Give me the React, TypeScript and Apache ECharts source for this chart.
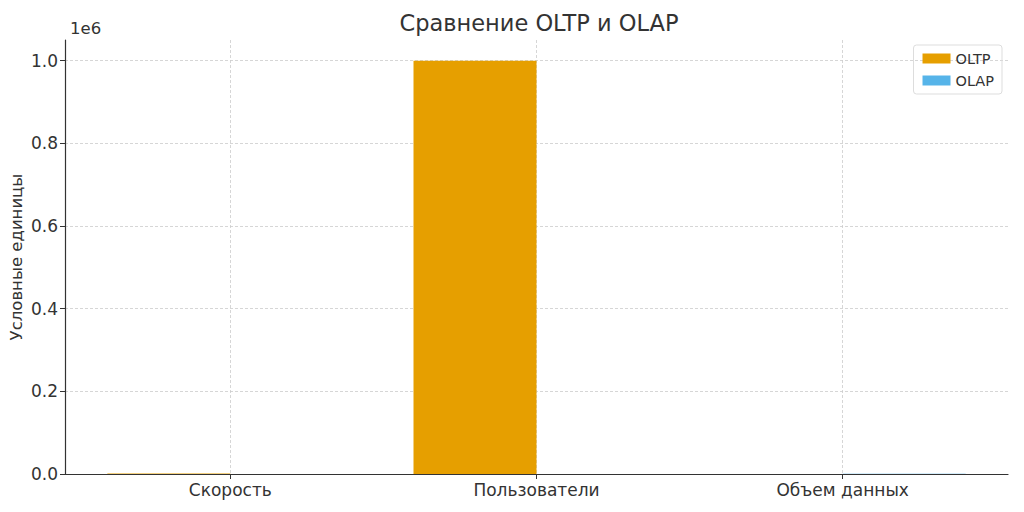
import { useEffect, useRef } from 'react';
import * as echarts from 'echarts';

// Категории и значения (OLTP / OLAP), условные единицы
const categories = ['Скорость', 'Пользователи', 'Объем данных'];
const oltpValues = [1000, 1000000, 100];
const olapValues = [10, 100, 500];
const yTicks = [0, 200000, 400000, 600000, 800000, 1000000];
const xTicks = [0, 1, 2];

const FONT = '"DejaVu Sans", sans-serif';

const App: React.FC = () => {
    const chartRef = useRef<HTMLDivElement>(null);

    useEffect(() => {
        if (!chartRef.current) return;
        const chart = echarts.init(chartRef.current, null, { renderer: 'svg' });

        const gridLine = {
            show: true,
            lineStyle: { color: '#cccccc', type: [3, 2] as number[], width: 0.8 }
        };

        chart.setOption({
            animation: false,
            backgroundColor: '#ffffff',
            textStyle: { fontFamily: FONT },
            title: [
                {
                    text: 'Сравнение OLTP и OLAP',
                    left: 534,
                    textAlign: 'center',
                    top: 6,
                    textStyle: { fontSize: 22.5, fontWeight: 'normal', color: '#333333', fontFamily: FONT }
                },
                {
                    text: '1e6',
                    left: 65,
                    top: 15,
                    textStyle: { fontSize: 16.5, fontWeight: 'normal', color: '#333333', fontFamily: FONT }
                }
            ],
            legend: {
                right: 22,
                top: 45,
                orient: 'vertical',
                itemWidth: 28,
                itemHeight: 10,
                itemGap: 7,
                padding: [6, 8, 6, 9],
                borderColor: '#dddddd',
                borderWidth: 1,
                borderRadius: 3,
                icon: 'rect',
                textStyle: { fontSize: 14.5, color: '#333333', fontFamily: FONT },
                data: ['OLTP', 'OLAP']
            },
            grid: { left: 65, right: 16, top: 40, bottom: 38, outerBoundsMode: 'none', containLabel: false },
            xAxis: {
                type: 'value',
                min: -0.54,
                max: 2.54,
                axisLine: { show: true, onZero: false, lineStyle: { color: '#333333', width: 1.2 } },
                axisTick: { show: true, customValues: xTicks, length: 5, lineStyle: { color: '#333333' } },
                axisLabel: {
                    customValues: xTicks,
                    formatter: (v: number) => categories[Math.round(v)] ?? '',
                    fontSize: 17,
                    color: '#333333',
                    margin: 7,
                    fontFamily: FONT
                },
                splitLine: gridLine
            },
            yAxis: {
                type: 'value',
                min: 0,
                max: 1050000,
                name: 'Условные единицы',
                nameLocation: 'middle',
                nameRotate: 90,
                nameGap: 40,
                nameMoveOverlap: false,
                nameTextStyle: { fontSize: 16.5, color: '#333333', fontFamily: FONT },
                axisLine: { show: true, onZero: false, lineStyle: { color: '#333333', width: 1.2 } },
                axisTick: { show: true, customValues: yTicks, length: 5, lineStyle: { color: '#333333' } },
                axisLabel: {
                    customValues: yTicks,
                    formatter: (v: number) => (v / 1e6).toFixed(1),
                    fontSize: 17,
                    color: '#333333',
                    margin: 7,
                    fontFamily: FONT
                },
                splitLine: gridLine
            },
            series: [
                {
                    name: 'OLTP',
                    type: 'bar',
                    barWidth: 123,
                    barGap: '0%',
                    itemStyle: { color: '#E69F00' },
                    data: oltpValues.map((v, i) => [i, v])
                },
                {
                    name: 'OLAP',
                    type: 'bar',
                    barWidth: 123,
                    barGap: '0%',
                    itemStyle: { color: '#56B4E9' },
                    data: olapValues.map((v, i) => [i, v])
                }
            ]
        });

        return () => {
            chart.dispose();
        };
    }, []);

    return <div ref={chartRef} style={{ width: 1024, height: 512, margin: -8 }} />;
};

export default App;
